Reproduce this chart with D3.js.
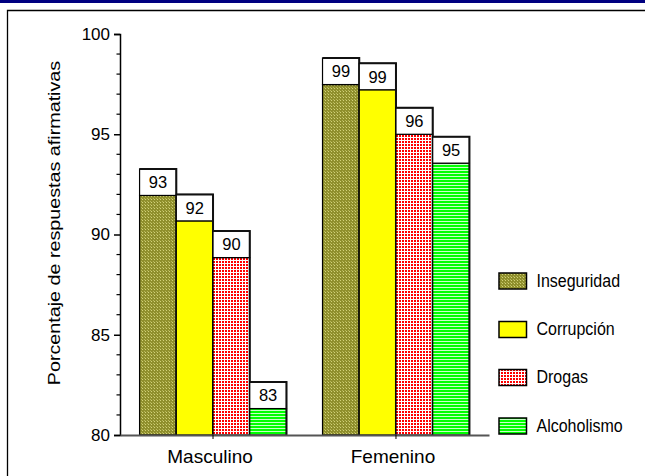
<!DOCTYPE html>
<html>
<head>
<meta charset="utf-8">
<script src="https://cdn.jsdelivr.net/npm/d3@7"></script>
<style>
  html, body { margin: 0; padding: 0; background: #fff; }
  svg { display: block; font-family: Arial, "Liberation Sans", sans-serif; }
</style>
</head>
<body>
<svg id="chart" width="645" height="476"></svg>
<script>
// ---- data ----
const groups = ["Masculino", "Femenino"];
const series = ["Inseguridad", "Corrupción", "Drogas", "Alcoholismo"];
const masculino = [93.27, 92.0, 90.17, 82.64];
const femenino = [98.8, 98.54, 96.32, 94.88];
const yTicks = [80, 85, 90, 95, 100];
const yLabel = "Porcentaje de respuestas afirmativas";

const values = [masculino, femenino];

const svg = d3.select("#chart");

// pattern definitions
const defs = svg.append("defs");
const pOlive = defs.append("pattern").attr("id", "pOlive").attr("patternUnits", "userSpaceOnUse")
  .attr("width", 3).attr("height", 3);
pOlive.append("rect").attr("width", 3).attr("height", 3).attr("fill", "#8f8f2c");
pOlive.append("rect").attr("x", 1).attr("y", 1).attr("width", 1).attr("height", 1).attr("fill", "#d2d27a");
pOlive.append("rect").attr("x", 0).attr("y", 0).attr("width", 1).attr("height", 1).attr("fill", "#b8b85a");

const pRed = defs.append("pattern").attr("id", "pRed").attr("patternUnits", "userSpaceOnUse")
  .attr("width", 3).attr("height", 3);
pRed.append("rect").attr("width", 3).attr("height", 3).attr("fill", "#ffffff");
pRed.append("rect").attr("x", 0).attr("y", 0).attr("width", 2).attr("height", 2).attr("fill", "#ff0000");

const pGreen = defs.append("pattern").attr("id", "pGreen").attr("patternUnits", "userSpaceOnUse")
  .attr("width", 3).attr("height", 3);
pGreen.append("rect").attr("width", 3).attr("height", 3).attr("fill", "#c8ffc8");
pGreen.append("rect").attr("x", 0).attr("y", 0).attr("width", 3).attr("height", 2).attr("fill", "#00ff00");

const fills = ["url(#pOlive)", "#ffff00", "url(#pRed)", "url(#pGreen)"];

// top navy band and frame
svg.append("rect").attr("x", 0).attr("y", 0).attr("width", 645).attr("height", 3).attr("fill", "#000080");
svg.append("path").attr("d", "M7.5,480 V10.5 H650").attr("fill", "none").attr("stroke", "#000").attr("stroke-width", 1.3);

// scales
const y = d3.scaleLinear().domain([80, 100]).range([435, 34]);
const x0 = d3.scaleBand().domain(groups).range([120, 489]).paddingInner(0.197).paddingOuter(0.107);
const x1 = d3.scaleBand().domain(series).range([0, x0.bandwidth()]).padding(0);

const boxH = 26.5;

// bars
const gBars = svg.append("g");
groups.forEach((g, gi) => {
  series.forEach((s, si) => {
    const v = values[gi][si];
    const bx = x0(g) + x1(s);
    const bw = x1.bandwidth();
    const top = y(v);
    const bottom = y(80);
    // colored part
    gBars.append("rect")
      .attr("x", bx).attr("y", top + boxH)
      .attr("width", bw).attr("height", bottom - top - boxH)
      .attr("fill", fills[si]).attr("stroke", "#000").attr("stroke-width", 1.2);
    // label box
    gBars.append("rect")
      .attr("x", bx).attr("y", top)
      .attr("width", bw).attr("height", boxH)
      .attr("fill", "#fff").attr("stroke", "#000").attr("stroke-width", 1.2);
    // shadow line on right/top of box
    gBars.append("path")
      .attr("d", `M${bx},${top} H${bx + bw} V${bottom}`)
      .attr("fill", "none").attr("stroke", "#111").attr("stroke-width", 2);
    gBars.append("text")
      .attr("x", bx + bw / 2).attr("y", top + boxH / 2 + 6)
      .attr("text-anchor", "middle").attr("font-size", 16.5).attr("fill", "#000")
      .text(Math.round(v));
  });
});

// y axis
const yAxis = d3.axisLeft(y).tickValues(yTicks).tickSize(6).tickPadding(4).tickFormat(d3.format("d"));
const gy = svg.append("g").attr("transform", "translate(120,0)").call(yAxis);
gy.select(".domain").attr("stroke", "#000").attr("stroke-width", 1.5);
gy.selectAll(".tick line").attr("stroke", "#000").attr("stroke-width", 1.5);
gy.selectAll(".tick text").attr("font-size", 17).attr("font-family", "Arial, 'Liberation Sans', sans-serif").attr("fill", "#000");
// minor ticks
const minor = d3.range(80, 101, 1).filter(d => d % 5 !== 0);
gy.selectAll(".minor").data(minor).enter().append("line")
  .attr("x1", -3.5).attr("x2", 0).attr("y1", d => y(d)).attr("y2", d => y(d))
  .attr("stroke", "#000").attr("stroke-width", 1.2);

// x axis
const xAxis = d3.axisBottom(x0).tickSize(4).tickPadding(6).tickSizeOuter(0);
const gx = svg.append("g").attr("transform", "translate(0,435)").call(xAxis);
gx.select(".domain").attr("stroke", "#555").attr("stroke-width", 2);
gx.selectAll(".tick line").attr("stroke", "#000").attr("stroke-width", 1);
gx.selectAll(".tick text").attr("font-size", 19).attr("font-family", "Arial, 'Liberation Sans', sans-serif")
  .attr("fill", "#000").attr("dx", -3).attr("dy", "0.95em");

// y axis title
svg.append("text")
  .attr("transform", "translate(60,223) rotate(-90) scale(1.16,1)")
  .attr("text-anchor", "middle").attr("font-size", 17).attr("fill", "#000")
  .text(yLabel);

// legend
const legY = [273, 321.5, 369.5, 418];
const leg = svg.append("g");
series.forEach((s, i) => {
  leg.append("rect").attr("x", 499).attr("y", legY[i]).attr("width", 27.5).attr("height", 16)
    .attr("fill", fills[i]).attr("stroke", "#000").attr("stroke-width", 1.5);
  leg.append("text")
    .attr("transform", `translate(536.5,${legY[i] + 13.5}) scale(1,1.16)`)
    .attr("font-size", 16).attr("fill", "#000")
    .text(s);
});
</script>
</body>
</html>
